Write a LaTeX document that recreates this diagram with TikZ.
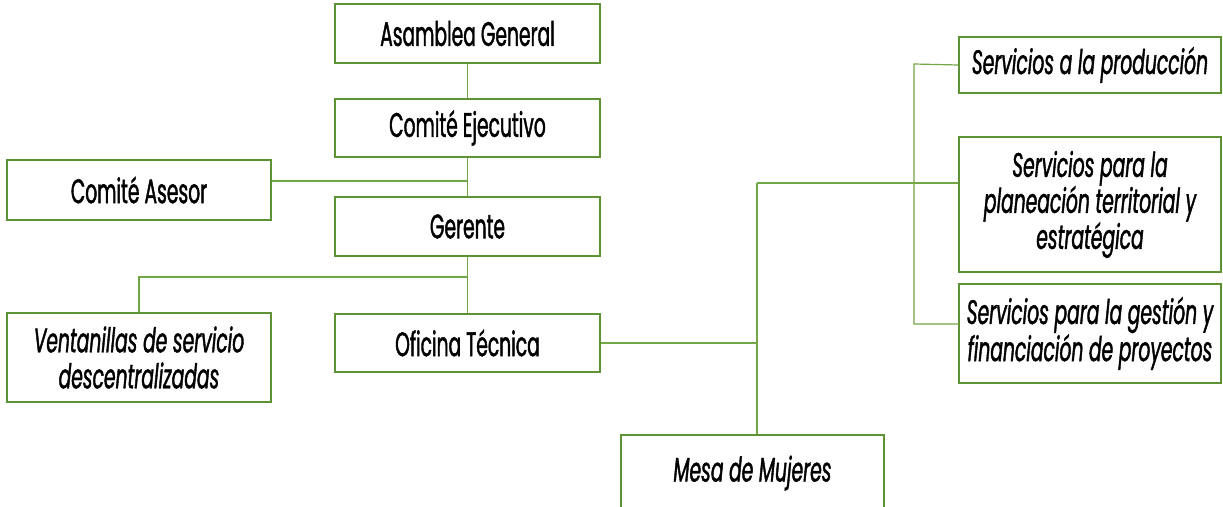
\documentclass[tikz,border=0pt]{standalone}
\usepackage{fontspec}
\setmainfont{Poppins}[FakeStretch=0.55, FakeBold=1.2]
\usetikzlibrary{positioning}

\definecolor{boxgreen}{HTML}{5E9234}
\definecolor{linegreen}{HTML}{72A646}

\tikzset{
    unit/.style={draw=boxgreen, line width=1.4pt, rectangle, align=center,
        minimum width=265pt, font=\fontsize{34}{36}\selectfont, inner sep=2pt},
    unitit/.style={unit, font=\fontsize{34}{36}\selectfont\itshape},
    link/.style={draw=linegreen, line width=1.2pt}
}

\begin{document}
\begin{tikzpicture}[x=1pt, y=-1pt]
        \useasboundingbox (0, 0) rectangle (1223, 506);

        % main line
        \node[unit, minimum height=59pt] (ag) at (467.5, 33.5) {Asamblea General};
        \node[unit, minimum height=58pt] (ce) at (467.5, 128) {Comité Ejecutivo};
        \node[unit, minimum height=60pt, minimum width=264pt] (ca) at (139, 190) {Comité Asesor};
        \node[unit, minimum height=59pt] (gr) at (467.5, 226.5) {Gerente};
        \node[unitit, minimum height=89pt, minimum width=264pt] (ve) at (139, 357.5) {Ventanillas de servicio\\descentralizadas};
        \node[unit, minimum height=58pt] (ot) at (467.5, 343) {Oficina Técnica};
        \node[unitit, minimum height=76pt, minimum width=263pt] (mm) at (752.5, 473) {Mesa de Mujeres};

        % services
        \node[unitit, minimum height=56pt, minimum width=262pt] (sp) at (1090, 65) {Servicios a la producción};
        \node[unitit, minimum height=135pt, minimum width=262pt] (st) at (1090, 204.5) {Servicios para la\\planeación territorial y\\estratégica};
        \node[unitit, minimum height=99pt, minimum width=262pt] (sg) at (1090, 333.5) {Servicios para la gestión y\\financiación de proyectos};

        \coordinate (ja) at (468, 181);
        \coordinate (jv) at (468, 277);
        \coordinate (jm) at (757, 183);
        \coordinate (rt) at (914, 64);
        \coordinate (rb) at (914, 324);

        \draw[link] (ag) -- (ce);
        \draw[link] (ce) -- (gr);
        \draw[link] (ja) -- (ja -| ca.east);
        \draw[link] (gr) -- (ot);
        \draw[link] (jv) -| (ve.north);
        \draw[link] (ot.east) -- (ot.east -| jm);
        \draw[link] (jm) -- (jm |- mm.north);
        \draw[link] (jm) -- (jm -| st.west);
        \draw[link] (sp.west) -- (rt) -- (rb) -- (rb -| sg.west);
    \end{tikzpicture}
\end{document}
